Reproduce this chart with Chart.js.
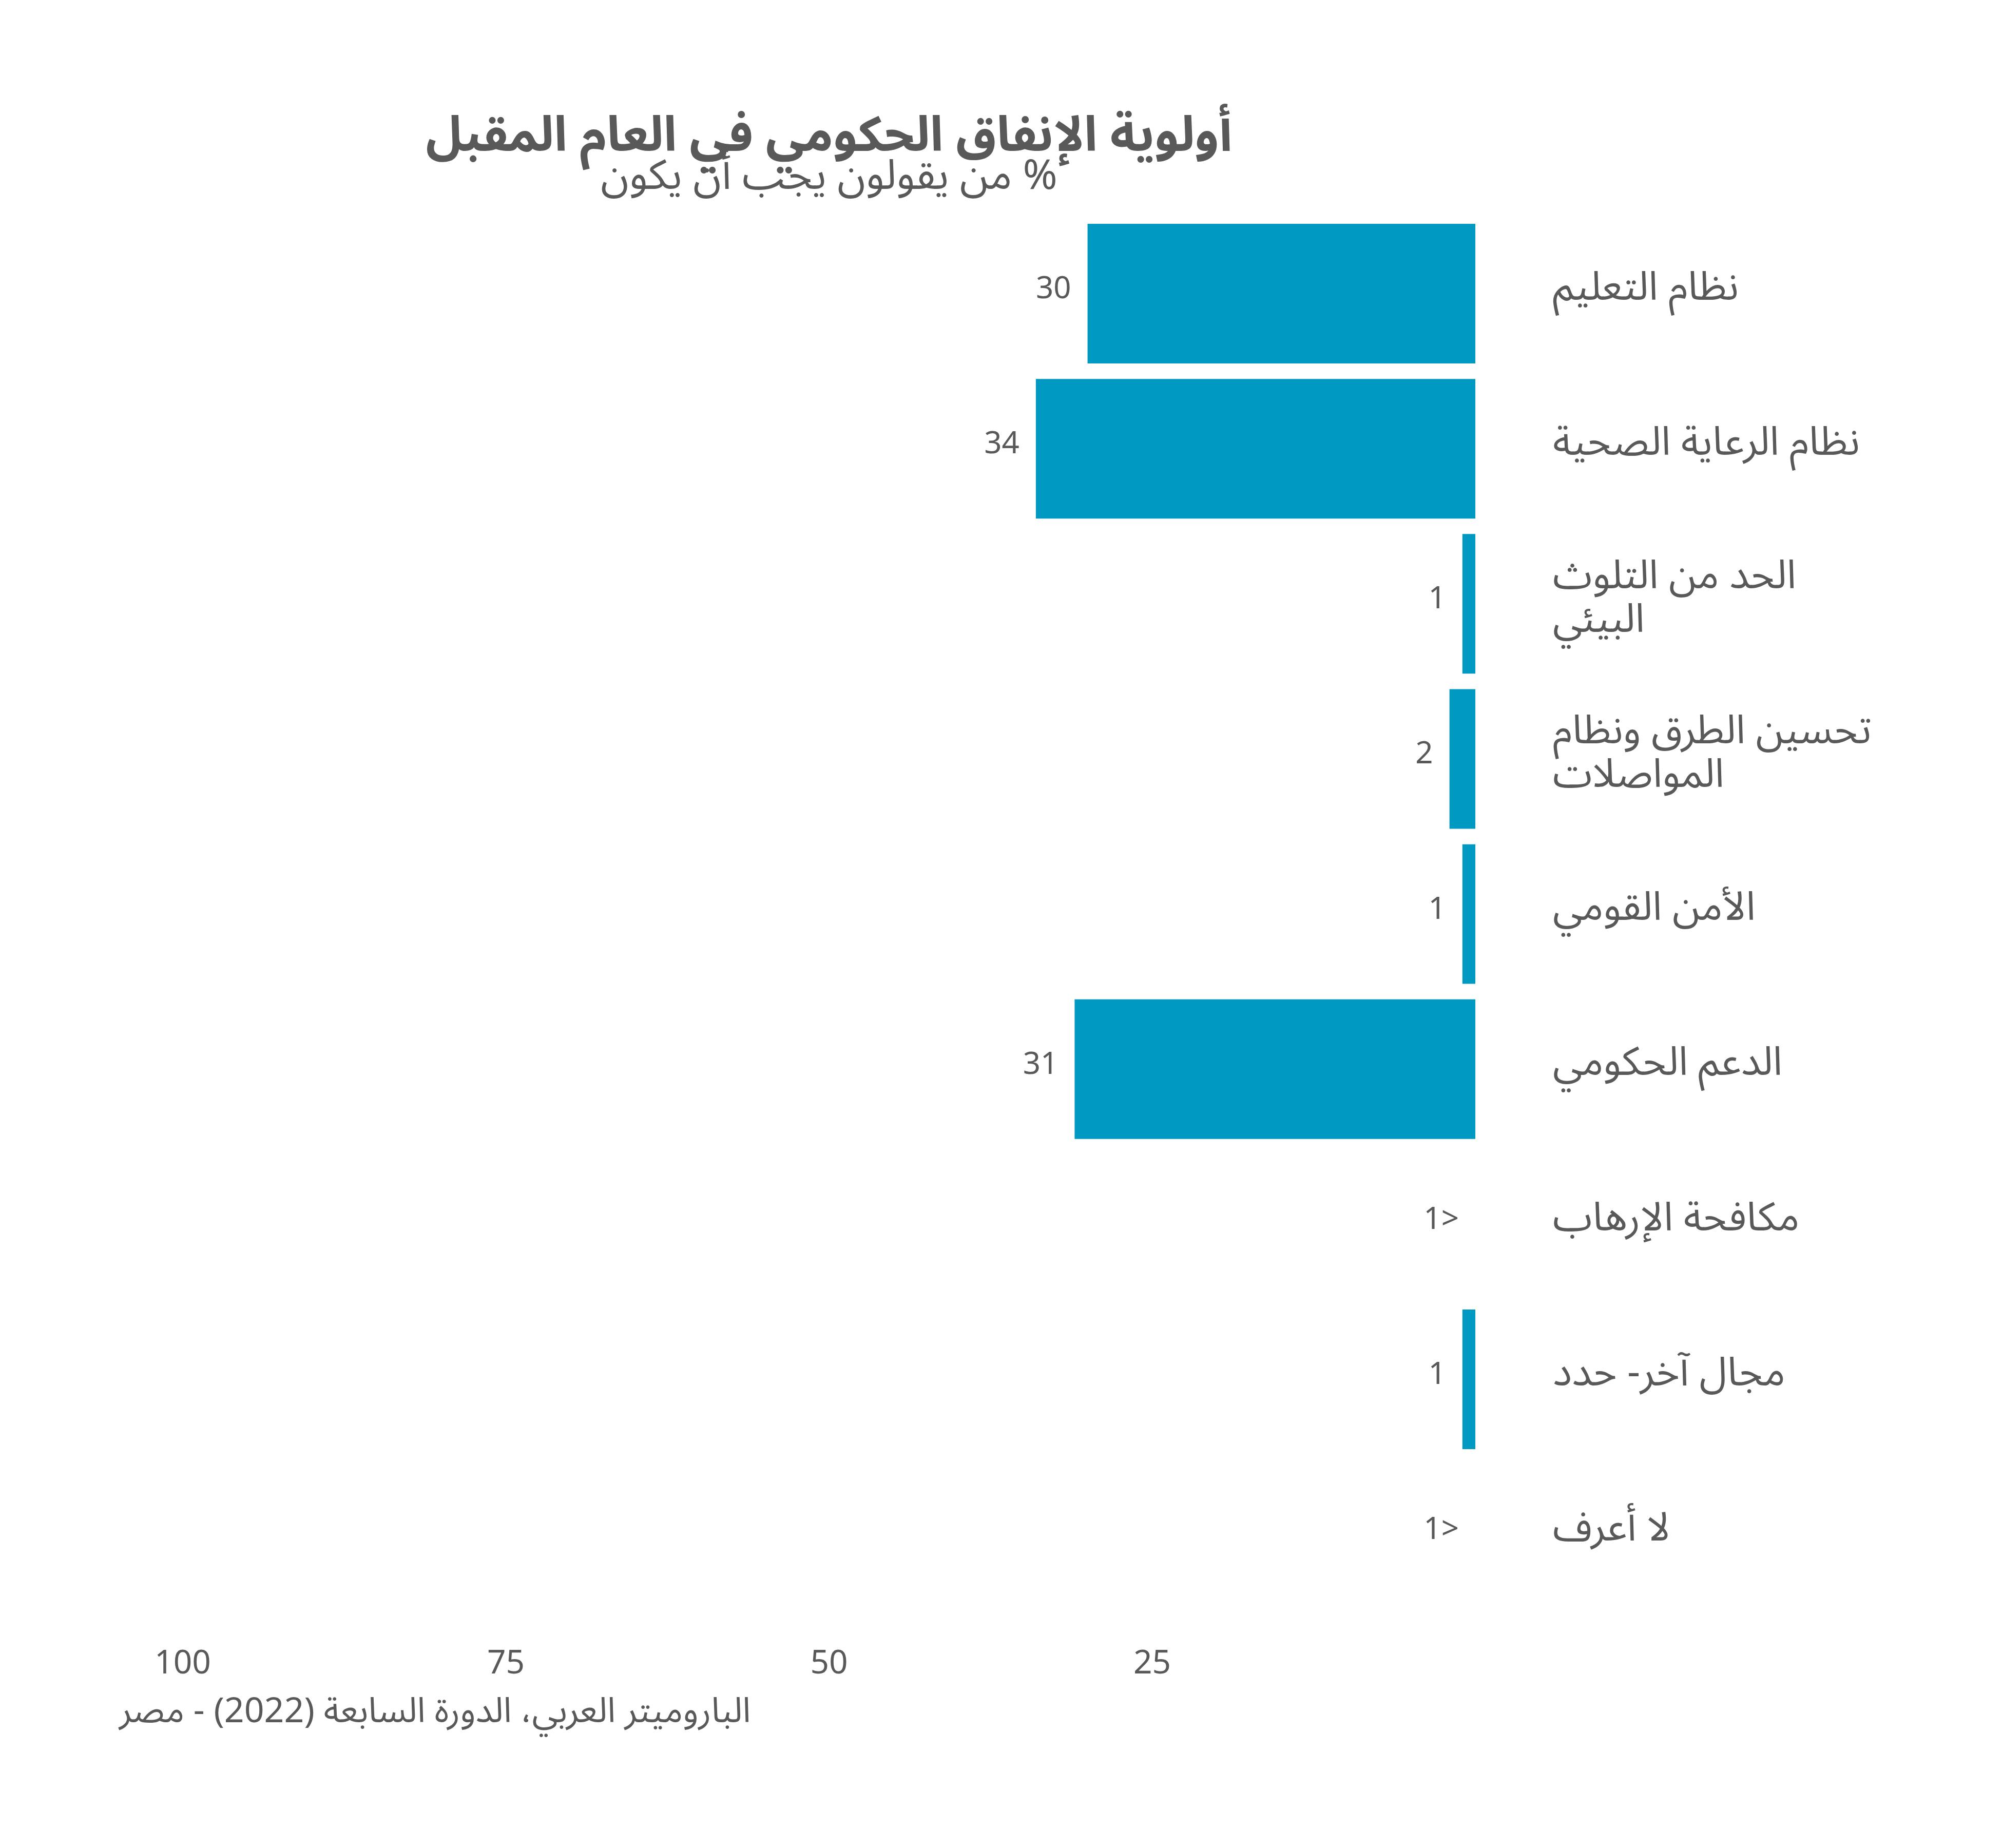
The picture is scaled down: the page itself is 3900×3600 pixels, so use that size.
<!DOCTYPE html>
<html lang="ar">
<head>
<meta charset="utf-8">
<title>أولوية الإنفاق الحكومي في العام المقبل</title>
<script src="https://cdn.jsdelivr.net/npm/chart.js@4.4.1/dist/chart.umd.min.js"></script>
<style>
    html, body { margin: 0; padding: 0; background: #ffffff; }
    canvas { display: block; }
</style>
</head>
<body>
<canvas id="chart" width="3900" height="3600"></canvas>
<script>
// Categories (top to bottom) and percentage values
const categories = [
    'نظام التعليم',
    'نظام الرعاية الصحية',
    ['الحد من التلوث', 'البيئي'],
    ['تحسين الطرق ونظام', 'المواصلات'],
    'الأمن القومي',
    'الدعم الحكومي',
    'مكافحة الإرهاب',
    'مجال آخر- حدد',
    'لا أعرف'
];
const values = [30, 34, 1, 2, 1, 31, 0, 1, 0];
const valueLabels = ['30', '34', '1', '2', '1', '31', '<1', '1', '<1'];
const xTickValues = [100, 75, 50, 25];

const titleText = 'أولوية الإنفاق الحكومي في العام المقبل';
const subtitleText = '% من يقولون يجب أن يكون';
const sourceText = 'الباروميتر العربي، الدورة السابعة (2022) - مصر';

const barColor = '#0099c2';
const textColor = '#595959';
const fontFamily = '"Noto Sans Arabic", "DejaVu Sans", "Noto Sans", sans-serif';

Chart.defaults.font.family = fontFamily;
Chart.defaults.color = textColor;

// Value labels next to bar ends, plus title / subtitle / source
const annotations = {
    id: 'annotations',
    afterDatasetsDraw(chart) {
        const ctx = chart.ctx;
        const meta = chart.getDatasetMeta(0);
        ctx.save();
        ctx.fillStyle = textColor;
        ctx.font = '60px ' + fontFamily;
        ctx.direction = 'rtl';
        ctx.textAlign = 'right';
        ctx.textBaseline = 'middle';
        meta.data.forEach((bar, i) => {
            ctx.fillText(valueLabels[i], bar.x - 32, bar.y);
        });
        ctx.restore();
    },
    afterDraw(chart) {
        const ctx = chart.ctx;
        const area = chart.chartArea;
        const cx = (area.left + area.right) / 2;
        ctx.save();
        ctx.fillStyle = textColor;
        ctx.direction = 'rtl';
        ctx.textBaseline = 'middle';
        ctx.textAlign = 'center';
        ctx.font = 'bold 95px ' + fontFamily;
        ctx.fillText(titleText, cx, 280);
        ctx.font = '81px ' + fontFamily;
        ctx.fillText(subtitleText, cx, 356);
        ctx.textAlign = 'left';
        ctx.font = '68px ' + fontFamily;
        ctx.fillText(sourceText, 232, 3345);
        ctx.restore();
    }
};

new Chart(document.getElementById('chart').getContext('2d'), {
    type: 'bar',
    data: {
        labels: categories,
        datasets: [{
            data: values,
            backgroundColor: barColor,
            borderWidth: 0,
            categoryPercentage: 0.9,
            barPercentage: 1
        }]
    },
    options: {
        indexAxis: 'y',
        responsive: false,
        devicePixelRatio: 1,
        animation: false,
        layout: {
            padding: { top: 421, left: 356, right: 0, bottom: 239 }
        },
        plugins: {
            legend: { display: false },
            tooltip: { enabled: false }
        },
        scales: {
            x: {
                reverse: true,
                min: 0,
                max: 100,
                afterBuildTicks(scale) {
                    scale.ticks = xTickValues.map(v => ({ value: v }));
                },
                ticks: {
                    font: { size: 64 },
                    color: textColor,
                    padding: 72
                },
                grid: { display: false, drawTicks: false },
                border: { display: false }
            },
            y: {
                position: 'right',
                afterFit(scale) {
                    scale.width = 1026;
                },
                ticks: {
                    padding: 151,
                    crossAlign: 'near',
                    font: { size: 78, lineHeight: 1.09 },
                    color: textColor
                },
                grid: { display: false, drawTicks: false },
                border: { display: false }
            }
        }
    },
    plugins: [annotations]
});
</script>
</body>
</html>
